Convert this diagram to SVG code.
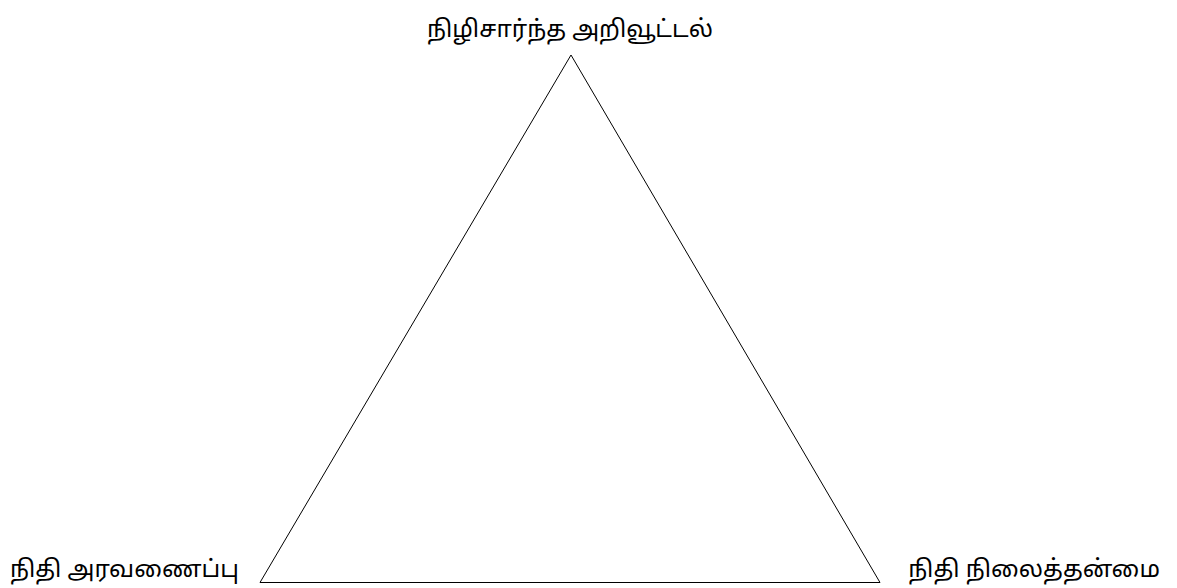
<svg xmlns="http://www.w3.org/2000/svg" width="1177" height="588" viewBox="0 0 1177 588">
<style>
text{font-family:"Noto Sans Tamil","Noto Sans","Liberation Sans",sans-serif;font-size:24px;fill:#000}
.edge{fill:none;stroke:#000;stroke-width:1}
</style>
<rect width="1177" height="588" fill="#fff"/>
<g id="connectors">
<path class="edge" d="M571,55 L880,582.5 L260,582.5 Z"/>
</g>
<g id="node-top"><text x="570" y="37" text-anchor="middle">நிழிசார்ந்த அறிவூட்டல்</text></g>
<g id="node-left"><text x="10" y="577">நிதி அரவணைப்பு</text></g>
<g id="node-right"><text x="1160" y="577" text-anchor="end">நிதி நிலைத்தன்மை</text></g>
</svg>
